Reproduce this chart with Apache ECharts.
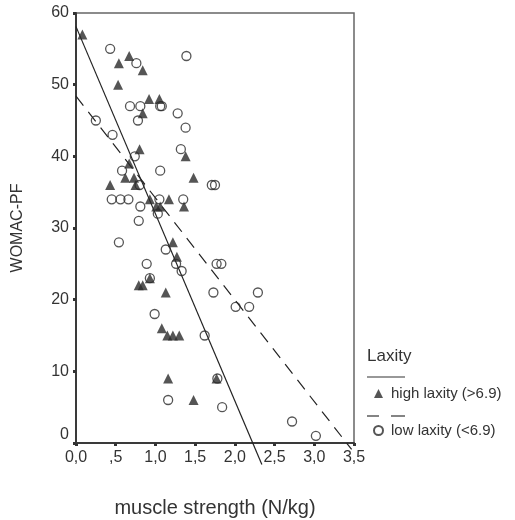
<!DOCTYPE html>
<html>
<head>
<meta charset="utf-8">
<script src="https://cdn.jsdelivr.net/npm/echarts@6/dist/echarts.min.js"></script>
<style>html,body{margin:0;padding:0;background:#fff}#c{width:515px;height:520px}</style>
</head>
<body>
<div id="c"></div>
<script>
// High laxity (>6.9): [muscle strength, WOMAC-PF]
const highLaxity = [
  [0.08,57],[0.67,54],[0.54,53],[0.84,52],[0.53,50],[0.92,48],[1.05,48],[0.84,46],
  [0.80,41],[1.38,40],[0.67,39],[0.62,37],[0.73,37],[1.48,37],[0.43,36],[0.75,36],
  [0.93,34],[1.17,34],[1.01,33],[1.06,33],[1.36,33],[1.22,28],[1.27,26],[0.93,23],
  [0.79,22],[0.84,22],[1.13,21],[1.08,16],[1.15,15],[1.22,15],[1.30,15],[1.16,9],
  [1.77,9],[1.48,6]
];
// Low laxity (<6.9)
const lowLaxity = [
  [0.43,55],[0.76,53],[1.39,54],[0.68,47],[0.81,47],[1.06,47],[1.08,47],[1.28,46],
  [0.78,45],[0.25,45],[1.38,44],[0.46,43],[1.32,41],[0.74,40],[0.58,38],[1.06,38],
  [0.80,36],[1.71,36],[1.75,36],[0.45,34],[0.56,34],[0.66,34],[1.05,34],[1.35,34],
  [0.81,33],[1.03,32],[0.79,31],[0.54,28],[1.13,27],[0.89,25],[1.26,25],[1.77,25],
  [1.83,25],[1.33,24],[0.93,23],[1.73,21],[2.29,21],[2.01,19],[2.18,19],[0.99,18],
  [1.62,15],[1.78,9],[1.16,6],[1.84,5],[2.72,3],[3.02,1]
];
// Fit line end points
const highFit = [[0,58.1],[2.34,-3.0]];
const lowFit = [[0,48.4],[3.47,-0.9]];
const seriesNames = ['high laxity (>6.9)','low laxity (<6.9)'];
const xTicks = {min:0, max:3.5, interval:0.5};
const yTicks = {min:0, max:60, interval:10};

const FONT = 'Liberation Sans, Arial, sans-serif';
const TXT = '#333';
const chart = echarts.init(document.getElementById('c'), null, {renderer:'canvas'});
chart.setOption({
  animation:false,
  backgroundColor:'#fff',
  grid:{left:76,right:161,top:13,bottom:77,show:true,borderColor:'#666',borderWidth:1.5,
        containLabel:false, outerBoundsMode:'none'},
  xAxis:{
    type:'value', min:xTicks.min, max:xTicks.max, interval:xTicks.interval,
    name:'muscle strength (N/kg)', nameLocation:'middle', nameGap:55,
    nameTextStyle:{fontFamily:FONT,fontSize:20,color:TXT},
    axisLine:{lineStyle:{color:'#3a3a3a',width:2}},
    axisTick:{show:true,length:3,lineStyle:{color:'#333',width:3}},
    axisLabel:{fontFamily:FONT,fontSize:16,color:TXT,margin:7,
      formatter:function(v){ if(v===0) return '0,0'; let s=v.toFixed(1).replace('.',','); if(s.indexOf('0,')===0) s=s.slice(1); return s; }},
    splitLine:{show:false}
  },
  yAxis:{
    type:'value', min:yTicks.min, max:yTicks.max, interval:yTicks.interval,
    name:'WOMAC-PF', nameLocation:'middle', nameGap:50, nameRotate:90,
    nameTextStyle:{fontFamily:FONT,fontSize:16,color:TXT},
    axisLine:{lineStyle:{color:'#3a3a3a',width:2}},
    axisTick:{show:true,length:3,lineStyle:{color:'#333',width:3}},
    axisLabel:{fontFamily:FONT,fontSize:16,color:TXT,margin:7,
      formatter:function(v){ return v===0 ? '{z|0}' : String(v); },
      rich:{z:{fontFamily:FONT,fontSize:16,color:TXT,padding:[0,0,17,0]}}},
    splitLine:{show:false}
  },
  legend:{
    orient:'vertical', left:368, top:381, itemWidth:9, itemHeight:9, itemGap:22,
    data:seriesNames, selectedMode:false,
    textStyle:{fontFamily:FONT,fontSize:15,color:TXT,padding:[0,0,0,3]}
  },
  graphic:[
    {type:'text', left:367, top:348, style:{text:'Laxity', font:'17px '+FONT, fill:TXT}},
    {type:'line', shape:{x1:367,y1:377,x2:405,y2:377}, style:{stroke:'#333',lineWidth:1.2}},
    {type:'line', shape:{x1:367,y1:416,x2:379,y2:416}, style:{stroke:'#333',lineWidth:1.2}},
    {type:'line', shape:{x1:391,y1:416,x2:405,y2:416}, style:{stroke:'#333',lineWidth:1.2}}
  ],
  series:[
    {name:seriesNames[0], type:'scatter', data:highLaxity, symbol:'triangle', symbolSize:10,
     itemStyle:{color:'#2b2b2b'}, z:3},
    {name:seriesNames[1], type:'scatter', data:lowLaxity, symbol:'circle', symbolSize:9,
     itemStyle:{color:'rgba(255,255,255,0)', borderColor:'#2b2b2b', borderWidth:1.3}, z:3},
    {name:'highFit', type:'line', data:highFit, symbol:'none', clip:false,
     lineStyle:{color:'#222',width:1.2}, z:2},
    {name:'lowFit', type:'line', data:lowFit, symbol:'none', clip:false,
     lineStyle:{color:'#222',width:1.2,type:[12,8]}, z:2}
  ]
});
</script>
</body>
</html>
